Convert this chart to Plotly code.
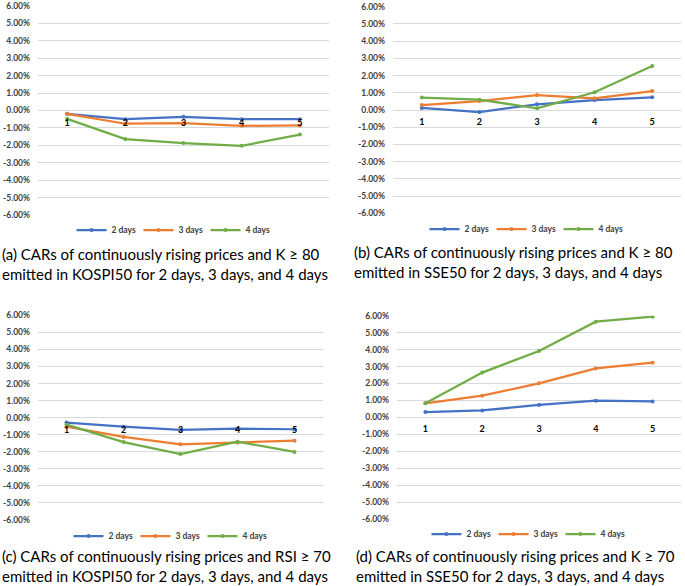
import plotly.graph_objects as go

# ---------------- data ----------------
x_labels = ["1", "2", "3", "4", "5"]
series_names = ["2 days", "3 days", "4 days"]

# values in fractions (CAR)
a_2d = [-0.0019, -0.0050, -0.0036, -0.0050, -0.0050]
a_3d = [-0.0019, -0.0076, -0.0073, -0.0088, -0.0086]
a_4d = [-0.0048, -0.0164, -0.0187, -0.0203, -0.0138]

b_2d = [0.0012, -0.0012, 0.0033, 0.0058, 0.0074]
b_3d = [0.0029, 0.0052, 0.0087, 0.0068, 0.0110]
b_4d = [0.0072, 0.0060, 0.0010, 0.0103, 0.0255]

c_2d = [-0.0029, -0.0053, -0.0072, -0.0064, -0.0068]
c_3d = [-0.0053, -0.0113, -0.0156, -0.0146, -0.0135]
c_4d = [-0.0041, -0.0143, -0.0213, -0.0141, -0.0201]

d_2d = [0.0031, 0.0041, 0.0073, 0.0098, 0.0094]
d_3d = [0.0083, 0.0128, 0.0201, 0.0289, 0.0323]
d_4d = [0.0083, 0.0264, 0.0392, 0.0565, 0.0594]

y_tick_vals = [-0.06, -0.05, -0.04, -0.03, -0.02, -0.01, 0.0, 0.01, 0.02, 0.03, 0.04, 0.05, 0.06]
y_tick_labels = ["-6.00%", "-5.00%", "-4.00%", "-3.00%", "-2.00%", "-1.00%", "0.00%",
                 "1.00%", "2.00%", "3.00%", "4.00%", "5.00%", "6.00%"]

captions = [
    "(a) CARs of continuously rising prices and K \u2265 80<br>emitted in KOSPI50 for 2 days, 3 days, and 4 days",
    "(b) CARs of continuously rising prices and K \u2265 80<br>emitted in SSE50 for 2 days, 3 days, and 4 days",
    "(c) CARs of continuously rising prices and RSI \u2265 70<br>emitted in KOSPI50 for 2 days, 3 days, and 4 days",
    "(d) CARs of continuously rising prices and K \u2265 70<br>emitted in SSE50 for 2 days, 3 days, and 4 days",
]

# ---------------- layout/style ----------------
W, H = 685, 586
colors = ["#4472C4", "#ED7D31", "#70AD47"]

panels = [
    dict(data=[a_2d, a_3d, a_4d], xpx=(38, 329), ypx=(6, 215), leg=(172, 230), cap=(0, 264)),
    dict(data=[b_2d, b_3d, b_4d], xpx=(393, 681), ypx=(6.7, 213.3), leg=(525, 229), cap=(352, 262)),
    dict(data=[c_2d, c_3d, c_4d], xpx=(38, 323), ypx=(315.3, 520), leg=(169, 536), cap=(0, 566)),
    dict(data=[d_2d, d_3d, d_4d], xpx=(397, 681), ypx=(315.7, 519), leg=(527, 534), cap=(354, 566)),
]

fig = go.Figure()
tick_font = dict(family="Lato", size=8.5, color="#404040", weight="bold")

for i, p in enumerate(panels):
    n = "" if i == 0 else str(i + 1)
    legname = "legend" if i == 0 else f"legend{i + 1}"
    for s, (name, vals) in enumerate(zip(series_names, p["data"])):
        fig.add_trace(go.Scatter(
            x=x_labels, y=vals, name=name, mode="lines+markers",
            line=dict(color=colors[s], width=2.25),
            marker=dict(color=colors[s], size=4),
            xaxis="x" + n, yaxis="y" + n, legend=legname,
        ))
    x0, x1 = p["xpx"]
    yt, yb = p["ypx"]
    ydom = [1 - yb / H, 1 - yt / H]
    fig.layout["xaxis" + n] = dict(
        domain=[x0 / W, x1 / W], type="category", anchor="free", range=[-0.5, 4.5],
        position=(ydom[0] + ydom[1]) / 2, showgrid=False, showline=False,
        zeroline=False, ticks="", tickfont=dict(family="Lato", size=9, color="#000000", weight="bold"),
        ticklabelstandoff=5,
    )
    fig.layout["yaxis" + n] = dict(
        domain=ydom, range=[-0.06, 0.06], tickvals=y_tick_vals, ticktext=y_tick_labels,
        showgrid=True, gridcolor="#D9D9D9", gridwidth=1, zeroline=False, showline=False,
        ticks="", tickfont=tick_font, anchor="x" + n, ticklabelstandoff=7,
    )
    lx, ly = p["leg"]
    fig.layout[legname] = dict(
        orientation="h", x=lx / W, y=1 - ly / H, xanchor="center", yanchor="middle",
        font=dict(family="Lato", size=8.5, color="#404040", weight="bold"),
        itemwidth=30, entrywidth=22, entrywidthmode="pixels",
        tracegroupgap=0, bgcolor="rgba(0,0,0,0)", itemclick=False,
    )
    cx, cy = p["cap"]
    fig.add_annotation(
        text=captions[i], xref="paper", yref="paper", x=cx / W, y=1 - cy / H,
        xanchor="left", yanchor="middle", align="left", showarrow=False,
        font=dict(family="Lato", size=15, color="#000000"),
    )

fig.update_layout(
    width=W, height=H, margin=dict(l=0, r=0, t=0, b=0, autoexpand=False),
    paper_bgcolor="white", plot_bgcolor="white", showlegend=True,
)

fig.write_html("out.html", config={"displayModeBar": False},
               post_script="document.body.style.margin='0px';")
